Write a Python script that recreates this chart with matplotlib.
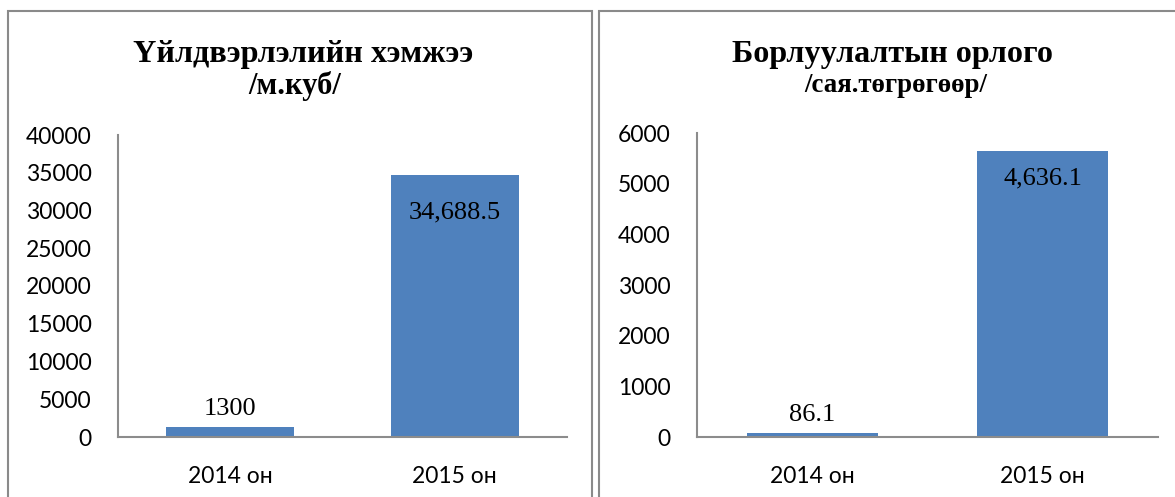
import matplotlib
matplotlib.use("Agg")
import matplotlib.pyplot as plt
from matplotlib.patches import Rectangle

categories = ["2014 он", "2015 он"]

left_title = "Үйлдвэрлэлийн хэмжээ"
left_unit = "/м.куб/"
left_values = [1300, 34688.5]
left_labels = ["1300", "34,688.5"]
left_ticks = [0, 5000, 10000, 15000, 20000, 25000, 30000, 35000, 40000]

right_title = "Борлуулалтын орлого"
right_unit = "/сая.төгрөгөөр/"
right_values = [86.1, 5650]
right_labels = ["86.1", "4,636.1"]
right_ticks = [0, 1000, 2000, 3000, 4000, 5000, 6000]

W, H = 1175, 497
BAR = "#4F81BD"
AX = "#8C8C8C"
SERIF = "Liberation Serif"
SANS = "Lato"

fig = plt.figure(figsize=(W / 100, H / 100), dpi=100)
fig.patch.set_facecolor("white")


def px(x0, y0, x1, y1):
    return [x0 / W, 1 - y1 / H, (x1 - x0) / W, (y1 - y0) / H]


# panel borders
for (x0, x1) in [(8, 592), (599, 1185)]:
    fig.add_artist(Rectangle((x0 / W, -0.05), (x1 - x0) / W, 1 - 11 / H + 0.05,
                             transform=fig.transFigure, fill=False,
                             edgecolor="#8A8A8A", linewidth=1.5))


def panel(rect, values, labels, ticks, inside_offsets):
    ax = fig.add_axes(rect)
    x = list(range(len(categories)))
    ax.bar(x, values, width=0.57, color=BAR, zorder=2)
    ax.set_xlim(-0.5, 1.5)
    ax.set_ylim(ticks[0], ticks[-1])
    ax.set_yticks(ticks)
    ax.set_yticklabels([str(t) for t in ticks], fontfamily=SANS, fontsize=16.5)
    ax.set_xticks(x)
    ax.set_xticklabels(categories, fontfamily=SANS, fontsize=16.5)
    ax.tick_params(axis="y", length=0, pad=19)
    ax.tick_params(axis="x", length=0, pad=21)
    for s in ["top", "right"]:
        ax.spines[s].set_visible(False)
    for s in ["left", "bottom"]:
        ax.spines[s].set_color(AX)
        ax.spines[s].set_linewidth(1.5)
    for xi, v, lab, off in zip(x, values, labels, inside_offsets):
        if off is None:
            ax.annotate(lab, (xi, v), xytext=(0, 5), textcoords="offset points",
                        ha="center", va="bottom", fontfamily=SERIF, fontsize=19)
        else:
            ax.annotate(lab, (xi, v), xytext=(0, -off), textcoords="offset points",
                        ha="center", va="top", fontfamily=SERIF, fontsize=19)
    return ax


panel(px(118, 135, 567, 437), left_values, left_labels, left_ticks, [None, 19])
panel(px(697, 133, 1158, 437), right_values, right_labels, right_ticks, [None, 12])

fig.text(303 / W, 1 - 62 / H, left_title, ha="center", va="baseline",
         fontfamily=SERIF, fontweight="bold", fontsize=23.2)
fig.text(295 / W, 1 - 94 / H, left_unit, ha="center", va="baseline",
         fontfamily=SERIF, fontweight="bold", fontsize=22)
fig.text(893 / W, 1 - 62 / H, right_title, ha="center", va="baseline",
         fontfamily=SERIF, fontweight="bold", fontsize=23.1)
fig.text(896 / W, 1 - 92 / H, right_unit, ha="center", va="baseline",
         fontfamily=SERIF, fontweight="bold", fontsize=19.4)

fig.savefig("out.png", dpi=100, facecolor="white")
